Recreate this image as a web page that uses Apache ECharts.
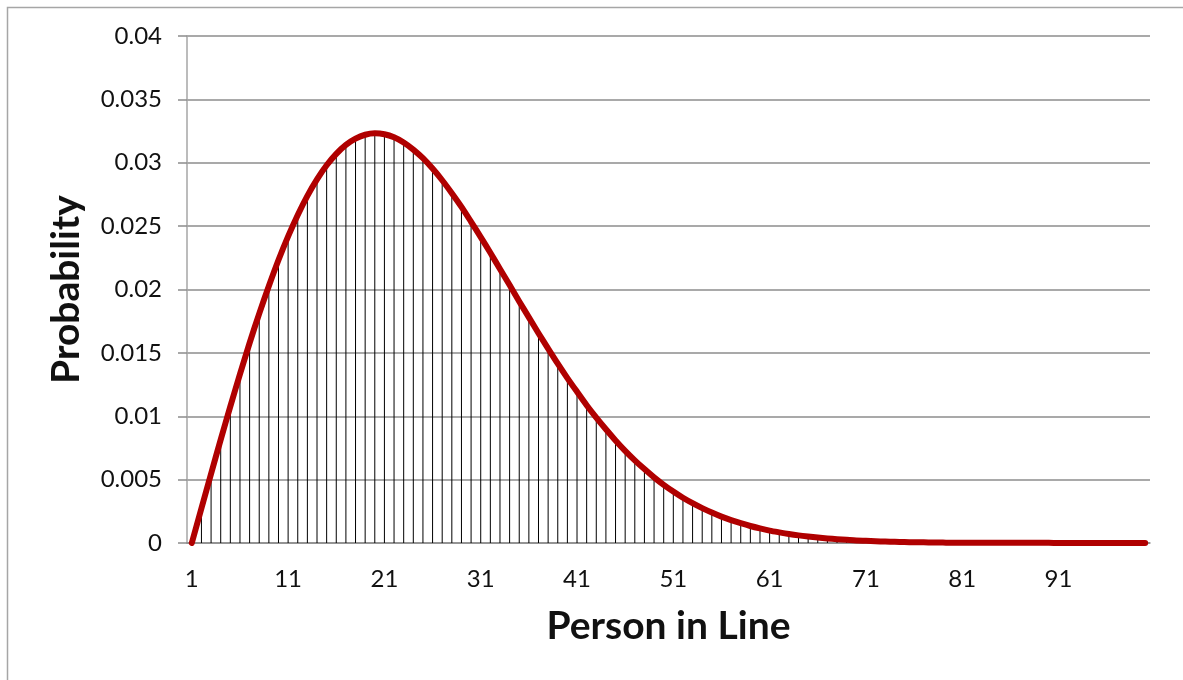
<!DOCTYPE html>
<html>
<head>
<meta charset="utf-8">
<script src="https://cdn.jsdelivr.net/npm/echarts@6/dist/echarts.min.js"></script>
<style>
html,body{margin:0;padding:0;background:#fff;}
#c{width:1183px;height:680px;}
</style>
</head>
<body>
<div id="c"></div>
<script>
// Person in line (1..100)
const persons = Array.from({length: 100}, (_, i) => String(i + 1));
// Probability values
const probability = [
  0, 0.00274, 0.00546, 0.00816, 0.01078, 0.01332, 0.01578, 0.01810, 0.02028, 0.02233,
  0.02419, 0.02588, 0.02739, 0.02869, 0.02980, 0.03070, 0.03141, 0.03190, 0.03221, 0.03232,
  0.03225, 0.03201, 0.03160, 0.03104, 0.03036, 0.02954, 0.02862, 0.02760, 0.02652, 0.02534,
  0.02413, 0.02290, 0.02162, 0.02035, 0.01906, 0.01780, 0.01655, 0.01534, 0.01415, 0.01301,
  0.01193, 0.01087, 0.00989, 0.00897, 0.00809, 0.00727, 0.00652, 0.00583, 0.00518, 0.00459,
  0.00406, 0.00357, 0.00314, 0.00275, 0.00240, 0.00208, 0.00180, 0.00156, 0.00134, 0.00115,
  0.00098, 0.00084, 0.00071, 0.00060, 0.00051, 0.00043, 0.00036, 0.00030, 0.00025, 0.00020,
  0.00017, 0.00014, 0.00011, 0.00009, 0.00007, 0.00006, 0.00005, 0.00004, 0.00003, 0.00002,
  0.00002, 0.00001, 0.00001, 0.00001, 0.00001, 0.00001, 0.00001, 0.00001, 0.00001, 0.00001,
  0, 0, 0, 0, 0, 0, 0, 0, 0, 0
];
const yTicks = { min: 0, max: 0.04, interval: 0.005 };
const xTitle = 'Person in Line';
const yTitle = 'Probability';

const FONT = 'Lato';
const chart = echarts.init(document.getElementById('c'), null, {renderer: 'canvas'});
chart.setOption({
  animation: false,
  backgroundColor: '#fff',
  graphic: [{
    type: 'rect', silent: true,
    shape: {x: 7.5, y: 7.5, width: 1300, height: 800},
    style: {fill: 'none', stroke: '#a6a6a6', lineWidth: 1.5}
  }],
  grid: {left: 187, right: 33, top: 36, bottom: 137, containLabel: false},
  xAxis: {
    type: 'category',
    data: persons,
    boundaryGap: true,
    name: xTitle,
    nameLocation: 'middle',
    nameGap: 64,
    nameTextStyle: {fontFamily: FONT, fontWeight: 'bold', fontSize: 39, color: '#111'},
    axisLine: {lineStyle: {color: '#8c8c8c', width: 1.5}},
    axisTick: {show: false},
    axisLabel: {interval: 9, margin: 24, fontFamily: FONT, fontSize: 24, color: '#111'},
    splitLine: {show: false}
  },
  yAxis: {
    type: 'value',
    min: yTicks.min, max: yTicks.max, interval: yTicks.interval,
    name: yTitle,
    nameLocation: 'middle',
    nameGap: 101,
    nameRotate: 90,
    nameTextStyle: {fontFamily: FONT, fontWeight: 'bold', fontSize: 39, color: '#111'},
    axisLine: {show: true, lineStyle: {color: '#a6a6a6', width: 1.5}},
    axisTick: {show: true, length: 9, lineStyle: {color: '#8c8c8c', width: 1.5}},
    axisLabel: {margin: 25, fontFamily: FONT, fontSize: 24, color: '#111'},
    splitLine: {lineStyle: {color: '#8c8c8c', width: 1.5}}
  },
  series: [
    {
      type: 'bar',
      data: probability,
      barWidth: 1,
      itemStyle: {color: '#000'},
      z: 2,
      silent: true
    },
    {
      type: 'line',
      data: probability,
      smooth: 0.3,
      symbol: 'none',
      lineStyle: {color: '#b00000', width: 6, cap: 'round', join: 'round'},
      z: 3,
      silent: true
    }
  ]
});
</script>
</body>
</html>
